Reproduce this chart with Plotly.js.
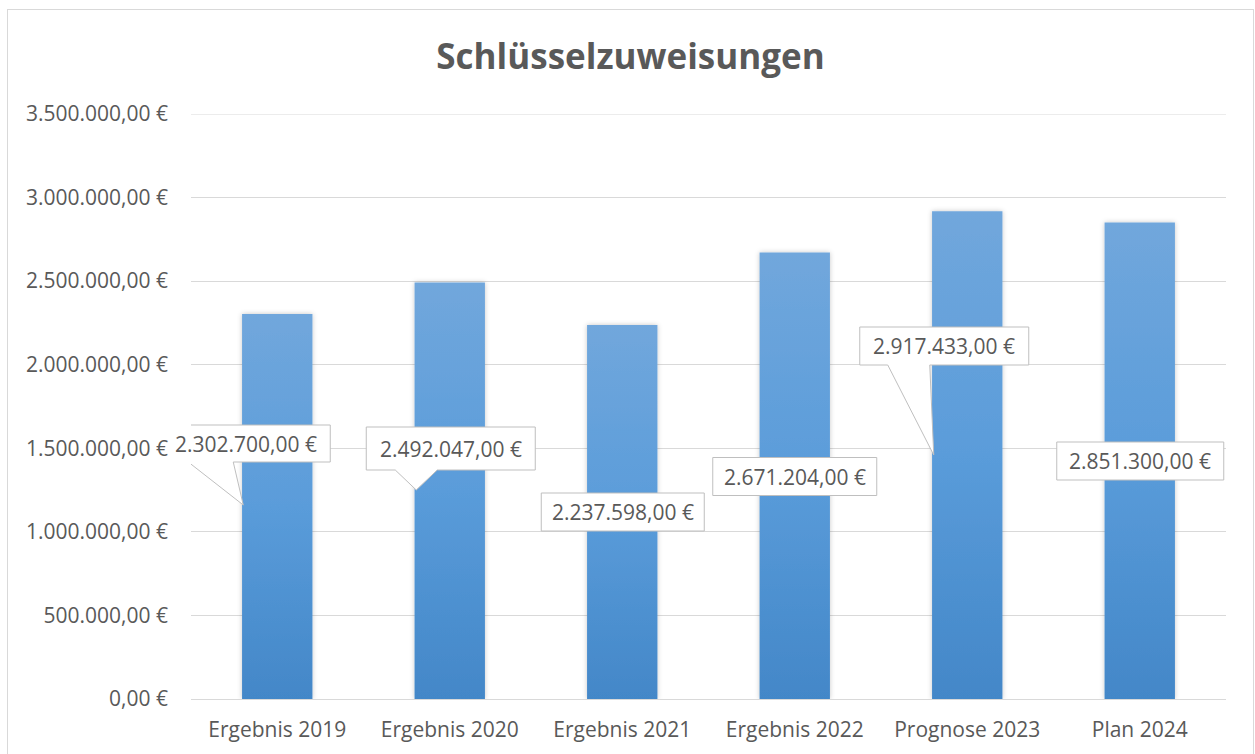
<!DOCTYPE html>
<html>
<head>
<meta charset="utf-8">
<script src="https://cdn.plot.ly/plotly-3.0.1.min.js"></script>
<style>
  html, body { margin: 0; padding: 0; background: #ffffff; }
  #wrap { position: relative; width: 1255px; height: 754px; overflow: hidden; }
  #chart { width: 1255px; height: 754px; }
  #frame { position: absolute; left: 7px; top: 9px; width: 1247px; height: 800px;
           border: 1px solid #d9d9d9; pointer-events: none; box-sizing: border-box; }
</style>
</head>
<body>
<div id="wrap">
  <div id="chart"></div>
  <div id="frame"></div>
</div>
<script>
// ---- data ----
const categories = ["Ergebnis 2019", "Ergebnis 2020", "Ergebnis 2021", "Ergebnis 2022", "Prognose 2023", "Plan 2024"];
const values = [2302700, 2492047, 2237598, 2671204, 2917433, 2851300];
const tickValues = [0, 500000, 1000000, 1500000, 2000000, 2500000, 3000000, 3500000];
const chartTitle = "Schlüsselzuweisungen";

// ---- label callout placement (layout only) ----
// anchorY: data-unit height of the anchor point on the bar's centre line
// box: [left, right, top, bottom] pixel offsets from anchor (screen y downward)
// wedge: [tipX, baseLeft, baseRight] pixel offsets (tip sits at anchorY) or null
const labelLayout = [
  { anchorY: 1160700, box: [-115, 53, -80, -43],     wedge: [-34, -89, -44] },
  { anchorY: 1250400, box: [-83.5, 85.5, -63, -20],  wedge: [-33.5, -54.5, -12.5] },
  { anchorY: 1118800, box: [-81, 82, -19, 19],       wedge: null },
  { anchorY: 1331200, box: [-82, 82, -19, 19],       wedge: null },
  { anchorY: 1459800, box: [-107.5, 61.5, -128, -90], wedge: [-33.5, -79.5, -37.5] },
  { anchorY: 1423900, box: [-83, 84, -19, 19],       wedge: null }
];

function fmtEuro(v) {
  const fixed = v.toFixed(2);
  let [intPart, dec] = fixed.split(".");
  intPart = intPart.replace(/\B(?=(\d{3})+(?!\d))/g, ".");
  return intPart + "," + dec + " €";
}

const FONT = "Open Sans, Noto Sans, sans-serif";
const TXT = "#595959";

const trace = {
  type: "bar",
  x: categories,
  y: values,
  marker: { color: "#5b9bd5", line: { width: 0 } },
  hoverinfo: "none"
};

const shapes = [{
  type: "line", xref: "paper", yref: "y",
  x0: 0, x1: 1, y0: tickValues[tickValues.length - 1], y1: tickValues[tickValues.length - 1],
  line: { color: "#d9d9d9", width: 1 }, layer: "below"
}];
const annotations = [];
values.forEach((v, i) => {
  const L = labelLayout[i];
  const [bl, br, bt, bb] = L.box;
  const P = (x, y) => x + "," + (-y);   // screen offsets -> shape pixel offsets (y up)
  let path = "M" + P(bl, bt) + " L" + P(br, bt) + " L" + P(br, bb);
  if (L.wedge) {
    const [tx, w1, w2] = L.wedge;
    path += " L" + P(w2, bb) + " L" + P(tx, 0) + " L" + P(w1, bb);
  }
  path += " L" + P(bl, bb) + " Z";
  shapes.push({
    type: "path",
    xref: "x", yref: "y",
    xsizemode: "pixel", ysizemode: "pixel",
    xanchor: categories[i], yanchor: L.anchorY,
    path: path,
    fillcolor: "#ffffff",
    line: { color: "#bfbfbf", width: 1 },
    layer: "above"
  });
  annotations.push({
    x: categories[i], y: L.anchorY, xref: "x", yref: "y",
    xshift: (bl + br) / 2, yshift: -(bt + bb) / 2,
    text: fmtEuro(v),
    font: { family: FONT, size: 21, color: TXT },
    showarrow: false
  });
});

const layout = {
  width: 1255,
  height: 754,
  margin: { l: 191, r: 29, t: 114, b: 55, pad: 0 },
  paper_bgcolor: "#ffffff",
  plot_bgcolor: "#ffffff",
  showlegend: false,
  bargap: 0.592,
  title: {
    text: "<b>" + chartTitle + "</b>",
    font: { family: FONT, size: 35, color: TXT },
    xref: "container", yref: "container",
    x: 0.5024, y: 1 - 57 / 754, xanchor: "center", yanchor: "middle"
  },
  xaxis: {
    type: "category",
    range: [-0.5, categories.length - 0.5],
    autorange: false,
    showline: true, linecolor: "#d9d9d9", linewidth: 1,
    ticks: "", showgrid: false, zeroline: false,
    tickfont: { family: FONT, size: 21, color: TXT },
    ticklabelstandoff: 12
  },
  yaxis: {
    range: [0, 3500000],
    autorange: false,
    tickvals: tickValues,
    ticktext: tickValues.map(fmtEuro),
    showgrid: true, gridcolor: "#d9d9d9", gridwidth: 1,
    zeroline: false, showline: false, ticks: "",
    tickfont: { family: FONT, size: 21, color: TXT },
    ticklabelstandoff: 22
  },
  shapes: shapes,
  annotations: annotations
};

Plotly.newPlot("chart", [trace], layout, { staticPlot: true, displayModeBar: false }).then(gd => {
  const svg = gd.querySelector("svg.main-svg");
  const ns = "http://www.w3.org/2000/svg";
  let defs = svg.querySelector("defs");
  if (!defs) { defs = document.createElementNS(ns, "defs"); svg.insertBefore(defs, svg.firstChild); }
  const grad = document.createElementNS(ns, "linearGradient");
  grad.setAttribute("id", "barGrad");
  grad.setAttribute("x1", "0"); grad.setAttribute("y1", "0");
  grad.setAttribute("x2", "0"); grad.setAttribute("y2", "1");
  [["0%", "#71a7dc"], ["50%", "#5a9cda"], ["100%", "#4387c8"]].forEach(([o, c]) => {
    const s = document.createElementNS(ns, "stop");
    s.setAttribute("offset", o); s.setAttribute("stop-color", c);
    grad.appendChild(s);
  });
  defs.appendChild(grad);
  const filt = document.createElementNS(ns, "filter");
  filt.setAttribute("id", "barShadow");
  filt.setAttribute("x", "-20%"); filt.setAttribute("y", "-5%");
  filt.setAttribute("width", "140%"); filt.setAttribute("height", "110%");
  const ds = document.createElementNS(ns, "feDropShadow");
  ds.setAttribute("dx", "0"); ds.setAttribute("dy", "0");
  ds.setAttribute("stdDeviation", "2.5"); ds.setAttribute("flood-color", "#000");
  ds.setAttribute("flood-opacity", "0.22");
  filt.appendChild(ds);
  defs.appendChild(filt);
  gd.querySelectorAll(".barlayer .point path").forEach(p => {
    p.style.fill = "url(#barGrad)";
    p.setAttribute("filter", "url(#barShadow)");
  });
});
</script>
</body>
</html>
